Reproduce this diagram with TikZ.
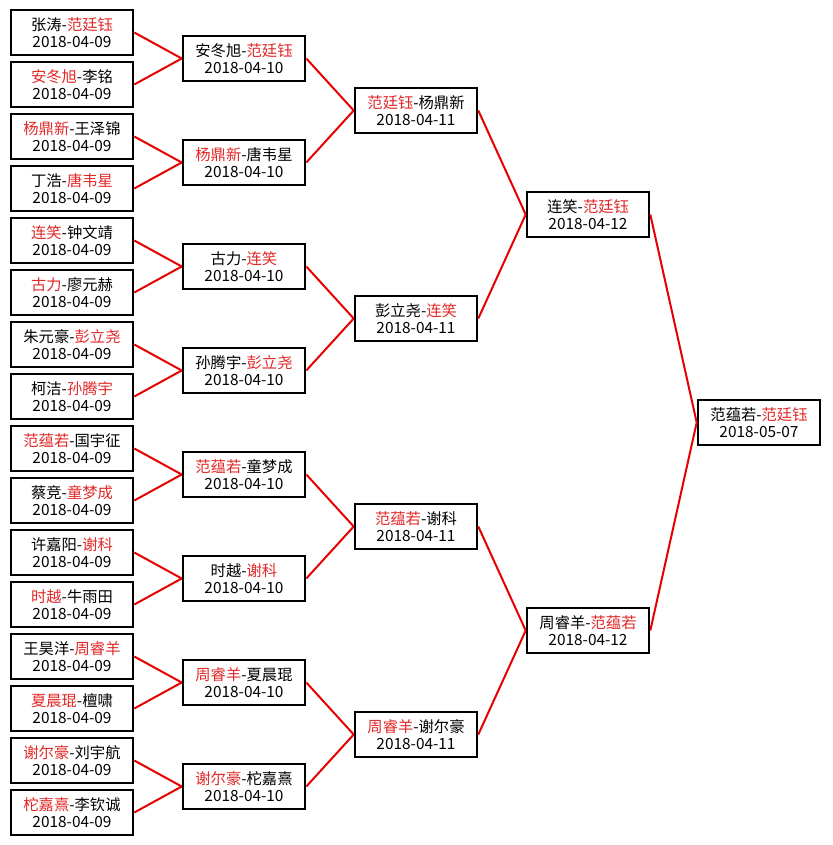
\documentclass[tikz,border=0pt]{standalone}
\usepackage{fontspec}
\setmainfont{Noto Sans CJK SC}
\definecolor{wred}{RGB}{226,40,40}
\definecolor{lred}{RGB}{232,0,0}
\newcommand\W[1]{\textcolor{wred}{#1}}
\newcommand\D[1]{{\fontsize{15.4pt}{17pt}\selectfont #1}}
\tikzset{
  match/.style={draw=black, line width=2.6pt, fill=white, minimum width=122pt,
    minimum height=45pt, inner sep=0pt, align=center,
    font=\fontsize{15.3pt}{17pt}\selectfont},
  link/.style={draw=lred, line width=2pt}
}
\begin{document}
\begin{tikzpicture}[x=1pt,y=-1pt]
\path[use as bounding box, fill=white] (0,0) rectangle (832,845);
% round 1
\foreach \t [count=\i from 0] in {
  {张涛-\W{范廷钰}}, {\W{安冬旭}-李铭}, {\W{杨鼎新}-王泽锦}, {丁浩-\W{唐韦星}},
  {\W{连笑}-钟文靖}, {\W{古力}-廖元赫}, {朱元豪-\W{彭立尧}}, {柯洁-\W{孙腾宇}},
  {\W{范蕴若}-国宇征}, {蔡竞-\W{童梦成}}, {许嘉阳-\W{谢科}}, {\W{时越}-牛雨田},
  {王昊洋-\W{周睿羊}}, {\W{夏晨琨}-檀啸}, {\W{谢尔豪}-刘宇航}, {\W{柁嘉熹}-李钦诚}}
  { \node[match] (a\i) at (72,{32.5+52*\i}) {\t\\\D{2018-04-09}}; }
% round 2
\foreach \t [count=\i from 0] in {
  {安冬旭-\W{范廷钰}}, {\W{杨鼎新}-唐韦星}, {古力-\W{连笑}}, {孙腾宇-\W{彭立尧}},
  {\W{范蕴若}-童梦成}, {时越-\W{谢科}}, {\W{周睿羊}-夏晨琨}, {\W{谢尔豪}-柁嘉熹}}
  { \node[match] (b\i) at (244,{58.5+104*\i}) {\t\\\D{2018-04-10}}; }
% round 3
\foreach \t [count=\i from 0] in {
  {\W{范廷钰}-杨鼎新}, {彭立尧-\W{连笑}}, {\W{范蕴若}-谢科}, {\W{周睿羊}-谢尔豪}}
  { \node[match] (c\i) at (416,{110.5+208*\i}) {\t\\\D{2018-04-11}}; }
% round 4
\foreach \t [count=\i from 0] in {{连笑-\W{范廷钰}}, {周睿羊-\W{范蕴若}}}
  { \node[match] (d\i) at (588,{214.5+416*\i}) {\t\\\D{2018-04-12}}; }
% final
\node[match] (e0) at (759,422.5) {范蕴若-\W{范廷钰}\\\D{2018-05-07}};
% connectors
\foreach \i in {0,...,15} { \pgfmathtruncatemacro\j{\i/2} \draw[link] (a\i.east) -- (b\j.west); }
\foreach \i in {0,...,7} { \pgfmathtruncatemacro\j{\i/2} \draw[link] (b\i.east) -- (c\j.west); }
\foreach \i in {0,...,3} { \pgfmathtruncatemacro\j{\i/2} \draw[link] (c\i.east) -- (d\j.west); }
\foreach \i in {0,1} { \draw[link] (d\i.east) -- (e0.west); }
\end{tikzpicture}
\end{document}
